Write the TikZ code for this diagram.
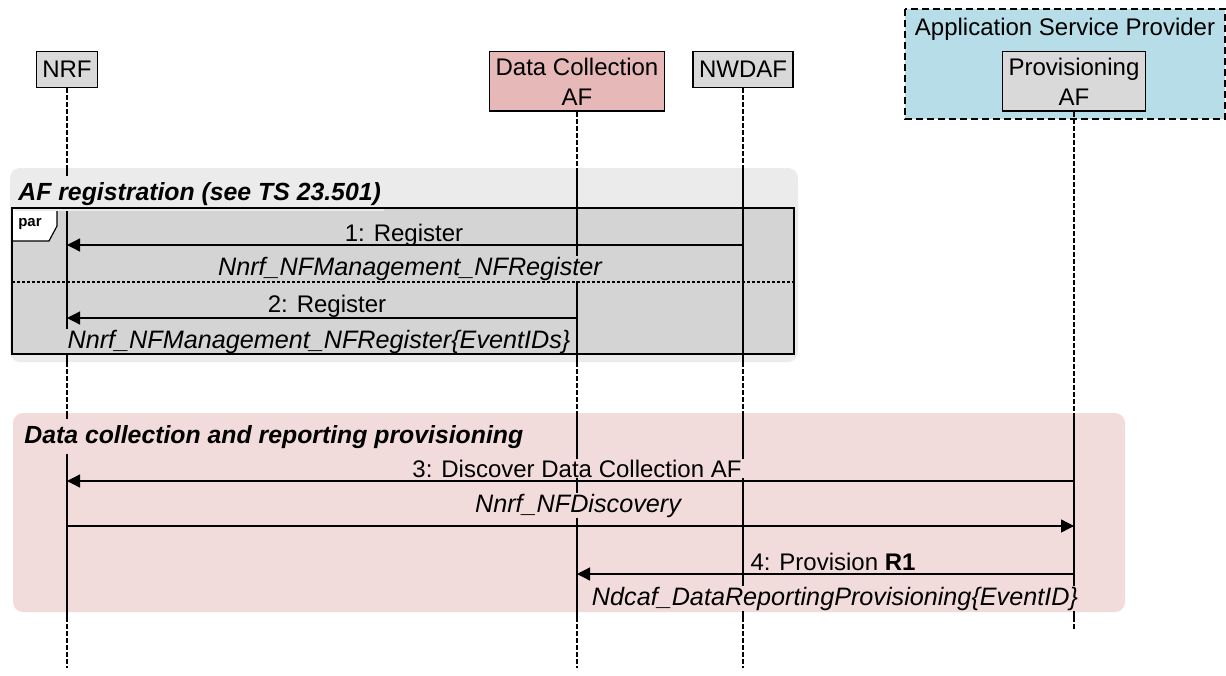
\documentclass[tikz,border=0pt]{standalone}
\usepackage{fontspec}
\setmainfont{Liberation Sans}
\usetikzlibrary{arrows.meta}
\definecolor{boxgray}{HTML}{D9D9D9}
\definecolor{afpink}{HTML}{E6B8B7}
\definecolor{aspblue}{HTML}{B7DEE8}
\definecolor{reggray}{HTML}{EBEBEB}
\definecolor{pargray}{HTML}{D4D4D4}
\definecolor{provpink}{HTML}{F2DCDB}

\begin{document}
\begin{tikzpicture}[x=0.5pt,y=-0.5pt]
	\tikzset{every node/.style={font=\fontsize{12}{15}\selectfont}}
	\tikzset{party/.style={draw,line width=0.65pt,fill=boxgray,align=center,anchor=north,inner xsep=3pt,inner ysep=3pt,minimum height=18pt}}
	\tikzset{life/.style={line width=0.6pt,dash pattern=on 2.5pt off 1pt}}
	\tikzset{alive/.style={line width=0.6pt}}
	\tikzset{msg/.style={line width=0.65pt,-{Triangle[length=6.5pt,width=6.5pt]}}}
	\tikzset{lbl/.style={anchor=base,inner xsep=1pt,inner ysep=0.5pt}}
	\tikzset{ilbl/.style={lbl,font=\fontsize{12.6}{15}\selectfont\itshape}}
	\tikzset{grptitle/.style={anchor=base west,inner xsep=1.5pt,inner ysep=3pt,font=\fontsize{12.4}{15}\selectfont\bfseries\itshape}}
	\useasboundingbox (0,0) rectangle (1226,675);
	% provider domain
	\draw[fill=aspblue,line width=0.75pt,dash pattern=on 3.5pt off 2pt] (905,9) rectangle (1225,119);
	\node (asp) at (1065,29) {Application Service Provider};
	% groups
	\fill[reggray,rounded corners=5pt] (10,168) rectangle (798,362);
	\fill[pargray] (12,208) rectangle (794,354);
	\draw[fill=white,line width=0.6pt] (12,208) -- (57,208) -- (57,226) -- (49,241) -- (12,241) -- cycle;
	\node[font=\fontsize{7.5}{9}\selectfont\bfseries] (par) at (30,224) {par};
	\fill[provpink,rounded corners=5pt] (13,413) rectangle (1125,612);
	% participants
	\node[party] (nrf) at (67,51) {NRF};
	\node[party,fill=afpink] (dcaf) at (577,51) {Data Collection\\AF};
	\node[party] (nwdaf) at (743,51) {NWDAF};
	\node[party] (paf) at (1074,51) {Provisioning\\AF};
	% lifelines
	\foreach \p in {nrf,dcaf,nwdaf}{
		\draw[life] (\p.south) -- (\p |- 0,168);
		\draw[alive] (\p |- 0,168) -- (\p |- 0,362);
		\draw[life] (\p |- 0,362) -- (\p |- 0,413);
		\draw[alive] (\p |- 0,413) -- (\p |- 0,617);
		\draw[life] (\p |- 0,617) -- (\p |- 0,668);
	}
	\draw[life] (paf.south) -- (paf |- 0,413);
	\draw[alive] (paf |- 0,413) -- (paf |- 0,617);
	\draw[life] (paf |- 0,617) -- (paf |- 0,630);
	% titles
	\node[grptitle,fill=reggray] (regtitle) at (15,200) {AF registration (see TS 23.501)};
	\node[grptitle,fill=provpink] (provtitle) at (21,443) {Data collection and reporting provisioning};
	% messages
	\node[lbl,fill=pargray] (m1) at (404,241) {1: Register};
	\node[ilbl,fill=pargray] (m1op) at (410,275) {Nnrf\_NFManagement\_NFRegister};
	\draw[msg] (nwdaf |- 0,245) -- (nrf |- 0,245);
	\node[lbl,fill=pargray] (m2) at (327,312) {2: Register};
	\node[ilbl,fill=pargray] (m2op) at (319,348) {Nnrf\_NFManagement\_NFRegister\{EventIDs\}};
	\draw[msg] (dcaf |- 0,318) -- (nrf |- 0,318);
	\node[lbl,fill=provpink] (m3) at (577,477) {3: Discover Data Collection AF};
	\node[ilbl,fill=provpink] (m3op) at (578,512) {Nnrf\_NFDiscovery};
	\draw[msg] (paf |- 0,481) -- (nrf |- 0,481);
	\draw[msg] (nrf |- 0,526) -- (paf |- 0,526);
	\node[lbl,fill=provpink] (m4) at (833,570) {4: Provision \textbf{R1}};
	\node[ilbl,fill=provpink] (m4op) at (835,605) {Ndcaf\_DataReportingProvisioning\{EventID\}};
	\draw[msg] (paf |- 0,574) -- (dcaf |- 0,574);
	% par frame on top
	\draw[line width=0.6pt] (12,208) rectangle (794,354);
	\draw[line width=0.6pt,dash pattern=on 1.5pt off 1pt] (12,282) -- (794,282);
\end{tikzpicture}
\end{document}
